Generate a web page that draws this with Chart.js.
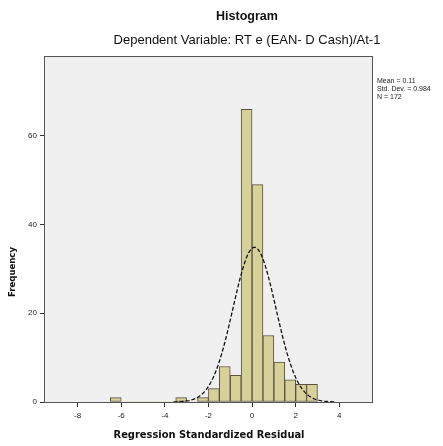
<!DOCTYPE html>
<html>
<head>
<meta charset="utf-8">
<script src="https://cdn.jsdelivr.net/npm/chart.js@4"></script>
<style>
  html, body { margin: 0; padding: 0; background: #fff; }
  #wrap { width: 443px; height: 446px; }
</style>
</head>
<body>
<div id="wrap"><canvas id="hist" width="443" height="446"></canvas></div>
<script>
// histogram bins (left edge, width 0.5) and counts
const binLefts = [-6.5, -6, -5.5, -5, -4.5, -4, -3.5, -3, -2.5, -2, -1.5, -1, -0.5, 0, 0.5, 1, 1.5, 2, 2.5];
const binCounts = [1, 0, 0, 0, 0, 0, 1, 0, 1, 3, 8, 6, 66, 49, 15, 9, 5, 4, 4];
const binWidth = 0.5;

const xTickValues = [-8, -6, -4, -2, 0, 2, 4];
const yTickValues = [0, 20, 40, 60];

// summary stats shown in the legend box (used for the normal curve)
const statMean = 0.11;
const statSd = 0.984;
const statN = 172;
const legendLines = ['Mean = 0.11', 'Std. Dev. = 0.984', 'N = 172'];

const barData = binLefts.map((l, i) => ({ x: l + binWidth / 2, y: binCounts[i] }));

// normal curve over the residual range
const curveData = [];
for (let x = -3.6; x <= 3.8001; x += 0.05) {
    const z = (x - statMean) / statSd;
    curveData.push({ x: x, y: statN * binWidth * Math.exp(-0.5 * z * z) / (statSd * Math.sqrt(2 * Math.PI)) });
}

const frame = {
    id: 'frame',
    beforeDraw(chart) {
        const { ctx, chartArea: a } = chart;
        ctx.save();
        ctx.fillStyle = '#f0f0f0';
        ctx.fillRect(a.left, a.top, a.right - a.left, a.bottom - a.top);
        ctx.restore();
    },
    afterDraw(chart) {
        const { ctx, chartArea: a } = chart;
        ctx.save();
        ctx.setLineDash([]);
        ctx.strokeStyle = '#555';
        ctx.lineWidth = 1;
        ctx.strokeRect(a.left + 0.5, a.top + 0.5, a.right - a.left, a.bottom - a.top);

        ctx.fillStyle = '#111';
        ctx.textAlign = 'center';
        ctx.textBaseline = 'middle';
        ctx.font = 'bold 12.5px "Liberation Sans", Arial, sans-serif';
        ctx.fillText('Histogram', 247, 17);
        ctx.font = '13px "Liberation Sans", Arial, sans-serif';
        ctx.fillText('Dependent Variable: RT e (EAN- D Cash)/At-1', 247, 40);
        ctx.font = 'bold 11px "DejaVu Sans Condensed", "Liberation Sans", sans-serif';
        ctx.fillText('Regression Standardized Residual', 209, 435);

        ctx.save();
        ctx.translate(13, 272);
        ctx.rotate(-Math.PI / 2);
        ctx.font = 'bold 9.5px "DejaVu Sans Condensed", "Liberation Sans", sans-serif';
        ctx.fillText('Frequency', 0, 0);
        ctx.restore();

        ctx.textAlign = 'left';
        ctx.font = '7px "Liberation Sans", Arial, sans-serif';
        ctx.fillStyle = '#222';
        legendLines.forEach((t, i) => ctx.fillText(t, 377, 81 + i * 8));
        ctx.restore();
    }
};

new Chart(document.getElementById('hist').getContext('2d'), {
    type: 'bar',
    data: {
        datasets: [{
            type: 'line',
            data: curveData,
            borderColor: '#111',
            borderWidth: 1.3,
            borderDash: [4, 2],
            pointRadius: 0,
            tension: 0,
            fill: false,
            order: 0
        }, {
            type: 'bar',
            data: barData,
            backgroundColor: '#d6d199',
            borderColor: '#5a5140',
            borderWidth: c => (c.raw && c.raw.y > 0) ? 1 : 0,
            borderSkipped: false,
            barPercentage: 1,
            categoryPercentage: 1,
            order: 1
        }]
    },
    options: {
        responsive: false,
        animation: false,
        layout: { padding: { top: 56, right: 71, left: 0, bottom: 0 } },
        plugins: {
            legend: { display: false },
            title: { display: false },
            tooltip: { enabled: false }
        },
        scales: {
            x: {
                type: 'linear',
                min: -9.54,
                max: 5.5,
                offset: false,
                afterBuildTicks: s => { s.ticks = xTickValues.map(v => ({ value: v })); },
                afterFit: s => { s.height = 44; },
                ticks: { autoSkip: false, font: { size: 8 }, color: '#222', padding: 4, maxRotation: 0 },
                grid: { offset: false, drawOnChartArea: false, drawTicks: true, tickLength: 5, color: '#333' },
                border: { display: true, color: '#444' }
            },
            y: {
                min: 0,
                max: 78,
                afterBuildTicks: s => { s.ticks = yTickValues.map(v => ({ value: v })); },
                afterFit: s => { s.width = 44; },
                ticks: { autoSkip: false, font: { size: 8 }, color: '#222', padding: 3 },
                grid: { offset: false, drawOnChartArea: false, drawTicks: true, tickLength: 4, color: '#333' },
                border: { display: true, color: '#444' }
            }
        }
    },
    plugins: [frame]
});
</script>
</body>
</html>
